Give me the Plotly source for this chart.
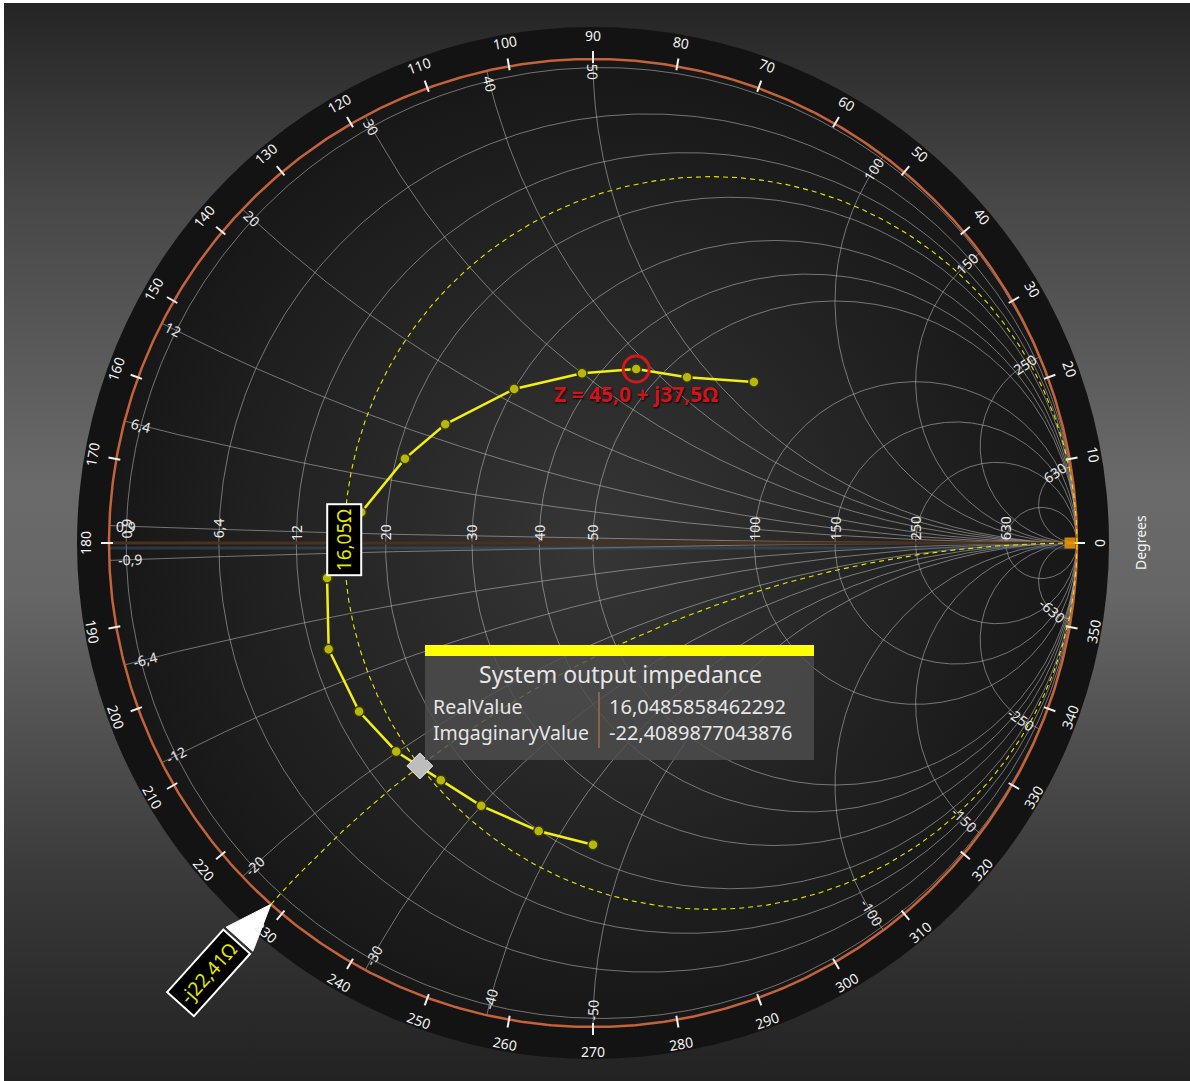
import numpy as np
import plotly.graph_objects as go
import base64

# ---------------- data ----------------
Z0 = 50.0
point_R = [70.0, 55.1, 45.0, 37.5, 30.0, 24.0, 20.9, 17.5, 14.4, 13.4, 13.9, 15.0, 16.8, 18.0, 19.9, 22.0]
point_X = [59.8, 44.7, 37.5, 30.0, 21.9, 13.9, 8.9, 2.9, -3.0, -9.0, -15.0, -19.9, -24.9, -30.0, -37.4, -44.9]
cursor_R = 16.0485858462292
cursor_X = -22.4089877043876
marked_R = 45.0
marked_X = 37.5
grid_values = [0.9, 6.4, 12, 20, 30, 40, 50, 100, 150, 250, 630]
degree_values = list(range(0, 360, 10))
series_title = "System output impedance"
axis_title = "Degrees"
row_names = ["RealValue", "ImgaginaryValue"]

# ---------------- geometry ----------------
W, H = 1190, 1081
CX, CY, RPX = 593, 543, 484
p = 1.0 / RPX
FONT = "Noto Sans"


def gam(R, X):
    z = (np.asarray(R, float) + 1j * np.asarray(X, float)) / Z0
    return (z - 1) / (z + 1)


def fmt(v):
    return ("%g" % v).replace(".", ",")


fig = go.Figure()

# grid
gx, gy = [], []
th = np.linspace(0, 2 * np.pi, 721)
for v in grid_values:
    r = v / Z0
    c = r / (1 + r)
    rad = 1 / (1 + r)
    gx += list(c + rad * np.cos(th)) + [None]
    gy += list(rad * np.sin(th)) + [None]
rs = np.concatenate([[0.0], np.logspace(-5, 6, 5000)])
for v in grid_values:
    for s in (1, -1):
        g = gam(rs * Z0, s * v * np.ones_like(rs))
        gx += list(g.real) + [None]
        gy += list(g.imag) + [None]
fig.add_trace(go.Scatter(x=gx, y=gy, mode="lines",
                         line=dict(color="rgba(205,205,205,0.5)", width=1),
                         hoverinfo="skip", showlegend=False))

# real axis
fig.add_trace(go.Scatter(x=[-1, 1], y=[-5 * p, -5 * p], mode="lines",
                         line=dict(color="rgba(70,90,110,0.45)", width=3),
                         hoverinfo="skip", showlegend=False))
fig.add_trace(go.Scatter(x=[-1, 1], y=[0, 0], mode="lines",
                         line=dict(color="#4c301c", width=3),
                         hoverinfo="skip", showlegend=False))

# outer unit ring
fig.add_trace(go.Scatter(x=np.cos(th), y=np.sin(th), mode="lines",
                         line=dict(color="#c4623a", width=2.5),
                         hoverinfo="skip", showlegend=False))

# degree ticks
tx, ty = [], []
for d in degree_values:
    a = np.radians(d)
    for rr in (480 * p, 492 * p):
        tx.append(rr * np.cos(a))
        ty.append(rr * np.sin(a))
    tx.append(None)
    ty.append(None)
fig.add_trace(go.Scatter(x=tx, y=ty, mode="lines",
                         line=dict(color="#f0f0f0", width=2),
                         hoverinfo="skip", showlegend=False))

# cursor guide lines (dashed)
rc = cursor_R / Z0
cc = rc / (1 + rc)
rrc = 1 / (1 + rc)
fig.add_trace(go.Scatter(x=cc + rrc * np.cos(th), y=rrc * np.sin(th), mode="lines",
                         line=dict(color="#e8e800", width=1.1, dash="5px,4px"),
                         hoverinfo="skip", showlegend=False))
ga = gam(rs * Z0, cursor_X * np.ones_like(rs))
fig.add_trace(go.Scatter(x=ga.real, y=ga.imag, mode="lines",
                         line=dict(color="#e8e800", width=1.1, dash="5px,4px"),
                         hoverinfo="skip", showlegend=False))

# open-circuit marker
fig.add_trace(go.Scatter(x=[1 - 7 * p], y=[0], mode="markers",
                         marker=dict(symbol="square", size=11, color="rgba(240,150,10,0.85)",
                                     line=dict(width=0)),
                         hoverinfo="skip", showlegend=False))

# data series
gp = gam(point_R, point_X)
fig.add_trace(go.Scatter(x=gp.real, y=gp.imag, mode="lines+markers", name=series_title,
                         line=dict(color="#f0f014", width=2.5),
                         marker=dict(size=10, color="#b8b80c", line=dict(color="#3a3a00", width=1.5)),
                         hoverinfo="skip", showlegend=False))

# highlighted point
gm = gam(marked_R, marked_X)
fig.add_trace(go.Scatter(x=[gm.real], y=[gm.imag], mode="markers",
                         marker=dict(symbol="circle-open", size=26, color="#d41818",
                                     line=dict(color="#d41818", width=3)),
                         hoverinfo="skip", showlegend=False))

# cursor marker
gc = gam(cursor_R, cursor_X)
fig.add_trace(go.Scatter(x=[gc.real], y=[gc.imag], mode="markers",
                         marker=dict(symbol="diamond", size=20, color="#bdbdbd",
                                     line=dict(color="rgba(255,255,255,0.8)", width=1)),
                         hoverinfo="skip", showlegend=False))

ann = []
LAB = 14
# resistance labels
for v in grid_values:
    t = fmt(v)
    half = len(t) * 4.2
    x0 = gam(v, 0).real
    ann.append(dict(x=x0, y=(half + 2) * p, text=t, textangle=-90, showarrow=False,
                    xanchor="center", yanchor="middle",
                    font=dict(family=FONT, size=LAB, color="#e8e8e8")))


# reactance labels
def arc_label(v, s_px):
    g = gam(rs * Z0, v * np.ones_like(rs))
    pxs = g.real * RPX
    pys = -g.imag * RPX
    dd = np.concatenate([[0], np.cumsum(np.hypot(np.diff(pxs), np.diff(pys)))])
    i = int(np.searchsorted(dd, s_px))
    i = min(max(i, 1), len(dd) - 2)
    ang = np.degrees(np.arctan2(pys[i + 1] - pys[i - 1], pxs[i + 1] - pxs[i - 1]))
    while ang > 90:
        ang -= 180
    while ang <= -90:
        ang += 180
    return g[i], ang


for v in grid_values:
    for s in (1, -1):
        t = fmt(s * v)
        s_px = len(t) * 4.0 + 5
        g, ang = arc_label(s * v, s_px)
        if s < 0:
            _, ang = arc_label(v, s_px)
            ang = -ang
        ann.append(dict(x=g.real, y=g.imag, text=t, textangle=ang, showarrow=False,
                        xanchor="center", yanchor="middle",
                        font=dict(family=FONT, size=LAB, color="#e8e8e8")))

# degree labels
for d in degree_values:
    a = np.radians(d)
    if 0 < d <= 180:
        ta = 90 - d
    elif d == 0:
        ta = 90
    else:
        ta = 270 - d
    ann.append(dict(x=508 * p * np.cos(a), y=508 * p * np.sin(a), text=str(d), textangle=ta,
                    showarrow=False, xanchor="center", yanchor="middle",
                    font=dict(family=FONT, size=14, color="#f2f2f2")))

ann.append(dict(x=(1140 - CX) * p, y=0, text=axis_title, textangle=-90, showarrow=False,
                xanchor="center", yanchor="middle", font=dict(family=FONT, size=14, color="#f4f4f4")))

# highlighted point label
ann.append(dict(x=gm.real, y=gm.imag - 25 * p,
                text="<b>" + ("Z = %.1f + j%.1fΩ" % (marked_R, marked_X)).replace(".", ",") + "</b>",
                showarrow=False, xanchor="center", yanchor="middle",
                font=dict(family=FONT, size=21, color="#d0141e", shadow="1px 1px 2px #000")))

# resistance cursor label
ann.append(dict(x=gam(cursor_R, 0).real, y=3 * p, text=fmt(round(cursor_R, 2)) + "Ω", textangle=-90,
                showarrow=False, xanchor="center", yanchor="middle", bgcolor="#000000",
                bordercolor="#ffffff", borderwidth=2, borderpad=3,
                font=dict(family=FONT, size=19, color="#e8e800")))

# reactance cursor callout
tip = gam(0, cursor_X)
tip_s = np.array([CX + tip.real * RPX, CY - tip.imag * RPX])
ang_c = np.radians(-48)
dvec = np.array([np.cos(ang_c), np.sin(ang_c)])
perp = np.array([-dvec[1], dvec[0]])
cen = tip_s - 93 * dvec
b1 = cen + 46 * dvec + 18 * perp
b2 = cen + 46 * dvec - 18 * perp


def to_g(ptx):
    return (ptx[0] - CX) * p, (CY - ptx[1]) * p


shapes = []
pts = [to_g(b1), to_g(tip_s), to_g(b2)]
path = "M %f,%f L %f,%f L %f,%f Z" % (pts[0] + pts[1] + pts[2])
shapes.append(dict(type="path", path=path, xref="x", yref="y", fillcolor="#ffffff",
                   line=dict(color="#ffffff", width=1)))
cg = to_g(cen)
ann.append(dict(x=cg[0], y=cg[1], text="-j" + fmt(round(abs(cursor_X), 2)) + "Ω", textangle=-48,
                showarrow=False, xanchor="center", yanchor="middle", bgcolor="#000000",
                bordercolor="#ffffff", borderwidth=2, borderpad=4,
                font=dict(family=FONT, size=19, color="#e8e800")))

# tooltip
def box(x0, y0, x1, y1, **kw):
    a0 = to_g((x0, y0))
    a1 = to_g((x1, y1))
    d = dict(type="rect", xref="x", yref="y", x0=a0[0], y0=a0[1], x1=a1[0], y1=a1[1])
    d.update(kw)
    return d


shapes.append(box(425, 655, 814, 760, fillcolor="rgba(78,78,78,0.82)", line=dict(width=0)))
shapes.append(box(425, 645, 814, 656, fillcolor="#ffff00", line=dict(width=0)))
l0 = to_g((599, 692))
l1 = to_g((599, 748))
shapes.append(dict(type="line", xref="x", yref="y", x0=l0[0], y0=l0[1], x1=l1[0], y1=l1[1],
                   line=dict(color="#9a7040", width=1.5)))
tt = to_g((620, 674))
ann.append(dict(x=tt[0], y=tt[1], text=series_title, showarrow=False, xanchor="center", yanchor="middle",
                font=dict(family=FONT, size=23, color="#e6e6e6")))
vals = [str(cursor_R).replace(".", ","), str(cursor_X).replace(".", ",")]
for k, (nm, vv) in enumerate(zip(row_names, vals)):
    yy = 706 + 26 * k
    a = to_g((431, yy))
    b = to_g((607, yy))
    ann.append(dict(x=a[0], y=a[1], text=nm, showarrow=False, xanchor="left", yanchor="middle",
                    font=dict(family=FONT, size=19.5, color="#e6e6e6")))
    ann.append(dict(x=b[0], y=b[1], text=vv, showarrow=False, xanchor="left", yanchor="middle",
                    font=dict(family=FONT, size=20, color="#e6e6e6")))

# background image (gradients)
svg = f"""<svg xmlns='http://www.w3.org/2000/svg' width='{W}' height='{H}' viewBox='0 0 {W} {H}'>
<defs>
<linearGradient id='bg' x1='0' y1='0' x2='0' y2='1'>
<stop offset='0' stop-color='#242424'/>
<stop offset='0.185' stop-color='#474747'/>
<stop offset='0.45' stop-color='#6a6a6a'/>
<stop offset='0.55' stop-color='#666666'/>
<stop offset='0.81' stop-color='#3a3a3a'/>
<stop offset='1' stop-color='#222222'/>
</linearGradient>
<radialGradient id='disc' cx='{CX}' cy='{CY}' r='{RPX}' gradientUnits='userSpaceOnUse'>
<stop offset='0' stop-color='#363636'/>
<stop offset='1' stop-color='#171717'/>
</radialGradient>
</defs>
<rect x='0' y='0' width='{W}' height='{H}' fill='url(#bg)'/>
<rect x='0' y='0' width='4' height='{H}' fill='#ffffff'/>
<rect x='0' y='0' width='{W}' height='3' fill='#ffffff'/>
<circle cx='{CX}' cy='{CY}' r='516' fill='#131313'/>
<circle cx='{CX}' cy='{CY}' r='{RPX}' fill='url(#disc)'/>
</svg>"""
src = "data:image/svg+xml;base64," + base64.b64encode(svg.encode()).decode()

fig.update_layout(
    width=W, height=H, autosize=False,
    margin=dict(l=0, r=0, t=0, b=0, pad=0),
    paper_bgcolor="rgba(0,0,0,0)", plot_bgcolor="rgba(0,0,0,0)",
    xaxis=dict(range=[-CX * p, (W - CX) * p], visible=False, fixedrange=True),
    yaxis=dict(range=[-(H - CY) * p, CY * p], visible=False, fixedrange=True),
    annotations=ann, shapes=shapes, hovermode=False, showlegend=False,
    images=[dict(source=src, xref="paper", yref="paper", x=0, y=1, sizex=1, sizey=1,
                 sizing="stretch", xanchor="left", yanchor="top", layer="below")],
)

fig.write_html("out.html", config={"displayModeBar": False},
               post_script="document.body.style.margin='0';document.body.style.overflow='hidden';")
